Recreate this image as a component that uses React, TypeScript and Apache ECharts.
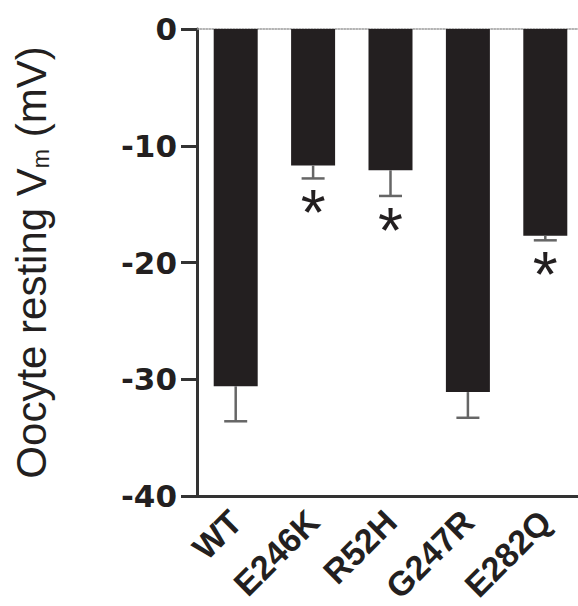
import React, { useEffect, useRef } from "react";
import * as echarts from "echarts";

const categories = ["WT", "E246K", "R52H", "G247R", "E282Q"];
const meanVm = [-30.6, -11.7, -12.1, -31.1, -17.7];
const semVm = [3.0, 1.1, 2.2, 2.2, 0.4];
const significant = [0, 1, 1, 0, 1];
const yTicks = { min: -40, max: 0, interval: 10 };

export default function App() {
  const ref = useRef<HTMLDivElement>(null);
  useEffect(() => {
    if (!ref.current) return;
    const chart = echarts.init(ref.current, null, { renderer: "svg" });
    const axisColor = "#333333";
    const barColor = "#231f20";
    chart.setOption({
      animation: false,
      backgroundColor: "#ffffff",
      grid: {
        left: 197,
        right: 0,
        top: 29,
        bottom: 110,
        containLabel: false,
        outerBoundsMode: "none",
      },
      xAxis: [
        {
          type: "category",
          data: categories,
          position: "bottom",
          axisLine: { show: true, onZero: false, lineStyle: { color: axisColor, width: 3 } },
          axisTick: { show: false },
          axisLabel: {
            rotate: 45,
            margin: 20,
            interval: 0,
            fontFamily: "Liberation Sans",
            fontWeight: "bold",
            fontSize: 34,
            color: "#231f20",
          },
          splitLine: { show: false },
        },
        {
          type: "category",
          data: categories,
          position: "top",
          axisLine: { show: true, onZero: false, lineStyle: { color: "#9a9a9a", width: 1.5, type: "dotted" } },
          axisTick: { show: false },
          axisLabel: { show: false },
          splitLine: { show: false },
          z: 0,
        },
      ],
      yAxis: {
        type: "value",
        min: yTicks.min,
        max: yTicks.max,
        interval: yTicks.interval,
        axisLine: { show: true, lineStyle: { color: axisColor, width: 3 } },
        axisTick: { show: true, length: 16, lineStyle: { color: axisColor, width: 3 } },
        axisLabel: {
          margin: 20,
          fontFamily: "DejaVu Sans",
          fontWeight: "bold",
          fontSize: 31,
          color: "#231f20",
        },
        splitLine: { show: false },
        name: "{main|Oocyte resting V}{sub|m}{main| (mV)}",
        nameLocation: "middle",
        nameGap: 145,
        nameTextStyle: {
          fontFamily: "Liberation Sans",
          fontSize: 42,
          color: "#231f20",
          rich: {
            main: {
              fontFamily: "Liberation Sans",
              fontSize: 42,
              color: "#231f20",
              verticalAlign: "top",
              lineHeight: 42,
            },
            sub: {
              fontFamily: "Liberation Sans",
              fontSize: 23,
              color: "#231f20",
              verticalAlign: "bottom",
              lineHeight: 19,
            },
          },
        },
      },
      series: [
        {
          type: "bar",
          data: meanVm,
          barWidth: 44,
          itemStyle: { color: barColor },
          z: 2,
        },
        {
          type: "custom",
          z: 5,
          data: categories.map((c, i) => [i, meanVm[i], semVm[i], significant[i]]),
          encode: { x: 0, y: 1 },
          renderItem: (params: any, api: any) => {
            const i = api.value(0);
            const m = api.value(1);
            const e = api.value(2);
            const sig = api.value(3);
            const top = api.coord([i, m]);
            const bot = api.coord([i, m - e]);
            const half = 11.5;
            const children: any[] = [
              {
                type: "line",
                shape: { x1: top[0], y1: top[1], x2: bot[0], y2: bot[1] },
                style: { stroke: "#666666", lineWidth: 2.5 },
              },
              {
                type: "line",
                shape: { x1: bot[0] - half, y1: bot[1], x2: bot[0] + half, y2: bot[1] },
                style: { stroke: "#666666", lineWidth: 2.5 },
              },
            ];
            if (sig) {
              children.push({
                type: "text",
                x: bot[0],
                y: bot[1] + 35,
                style: {
                  text: "*",
                  fontFamily: "Liberation Sans",
                  fontSize: 64,
                  fill: "#231f20",
                  align: "center",
                  verticalAlign: "middle",
                },
              });
            }
            return { type: "group", children };
          },
        },
      ],
    });
    return () => chart.dispose();
  }, []);
  return (
    <div
      style={{
        position: "absolute",
        left: 0,
        top: 0,
        width: 578,
        height: 606,
        overflow: "hidden",
        background: "#ffffff",
      }}
    >
      <div ref={ref} style={{ width: 584, height: 606 }} />
    </div>
  );
}
